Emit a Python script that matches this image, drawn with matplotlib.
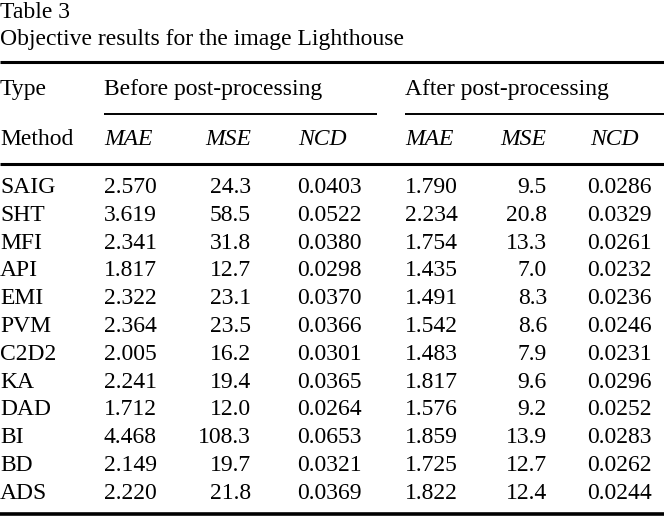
import matplotlib
matplotlib.use("Agg")
import matplotlib.pyplot as plt

# Table contents
methods = ["SAIG", "SHT", "MFI", "API", "EMI", "PVM", "C2D2", "KA", "DAD", "BI", "BD", "ADS"]
mae_before = ["2.570", "3.619", "2.341", "1.817", "2.322", "2.364", "2.005", "2.241", "1.712", "4.468", "2.149", "2.220"]
mse_before = ["24.3", "58.5", "31.8", "12.7", "23.1", "23.5", "16.2", "19.4", "12.0", "108.3", "19.7", "21.8"]
ncd_before = ["0.0403", "0.0522", "0.0380", "0.0298", "0.0370", "0.0366", "0.0301", "0.0365", "0.0264", "0.0653", "0.0321", "0.0369"]
mae_after = ["1.790", "2.234", "1.754", "1.435", "1.491", "1.542", "1.483", "1.817", "1.576", "1.859", "1.725", "1.822"]
mse_after = ["9.5", "20.8", "13.3", "7.0", "8.3", "8.6", "7.9", "9.6", "9.2", "13.9", "12.7", "12.4"]
ncd_after = ["0.0286", "0.0329", "0.0261", "0.0232", "0.0236", "0.0246", "0.0231", "0.0296", "0.0252", "0.0283", "0.0262", "0.0244"]
metric_names = ["MAE", "MSE", "NCD"]
groups = ["Before post-processing", "After post-processing"]

plt.rcParams['font.family'] = ['Liberation Serif', 'DejaVu Serif']
fs = 17

fig = plt.figure(figsize=(6.64, 5.22), dpi=100)
ax = fig.add_axes([0, 0, 1, 1])
ax.set_xlim(0, 664)
ax.set_ylim(522, 0)
ax.axis('off')

# caption
ax.text(0, 18, "Table 3", fontsize=fs, va='baseline')
ax.text(0, 45, "Objective results for the image Lighthouse", fontsize=fs, va='baseline')

# rules
ax.plot([0, 664], [62, 62], color='black', lw=2.2, solid_capstyle='butt')
ax.plot([104, 377], [114, 114], color='black', lw=1.4, solid_capstyle='butt')
ax.plot([405, 664], [114, 114], color='black', lw=1.4, solid_capstyle='butt')
ax.plot([0, 664], [164, 164], color='black', lw=2.2, solid_capstyle='butt')
ax.plot([0, 664], [514, 514], color='black', lw=2.6, solid_capstyle='butt')

# header rows
ax.text(0, 95, "Type", fontsize=fs, va='baseline')
ax.text(104, 95, groups[0], fontsize=fs, va='baseline')
ax.text(405, 95, groups[1], fontsize=fs, va='baseline')
ax.text(0, 145, "Method", fontsize=fs, va='baseline')

# column layout: (x, alignment)
cols = [(104, 'left'), (251, 'right'), (297, 'left'), (405, 'left'), (547, 'right'), (587, 'left')]
head_x = [104, 205, 298, 405, 500, 590]
for j, hx in enumerate(head_x):
    ax.text(hx, 145, metric_names[j % 3], fontsize=fs, style='italic', va='baseline')

columns = [mae_before, mse_before, ncd_before, mae_after, mse_after, ncd_after]
for i, m in enumerate(methods):
    y = 193 + i * 27.8
    ax.text(0, y, m, fontsize=fs, va='baseline')
    for (cx, ha), col in zip(cols, columns):
        ax.text(cx, y, col[i], fontsize=fs, va='baseline', ha=ha)

fig.savefig("out.png", dpi=100)
